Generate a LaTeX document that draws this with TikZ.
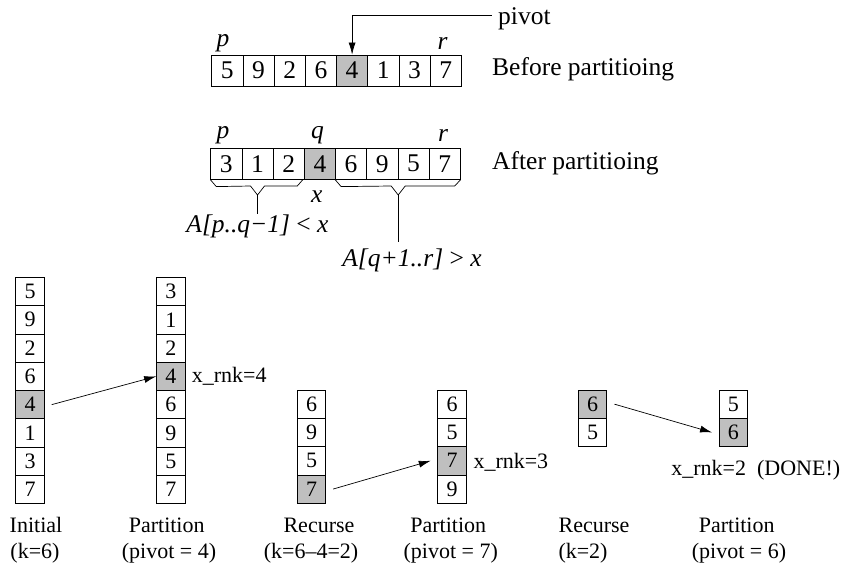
\documentclass[tikz,border=0pt]{standalone}
\usepackage{fontspec}
\setmainfont{Liberation Serif}
\usetikzlibrary{arrows.meta}
\begin{document}
\begin{tikzpicture}[x=1pt,y=-1pt,
  cellA/.style={draw, line width=0.8pt, minimum width=31.2pt, minimum height=31pt, inner sep=0pt, font=\fontsize{25.5}{25.5}\selectfont},
  cellB/.style={draw, line width=0.8pt, minimum width=28.5pt, minimum height=28.3pt, inner sep=0pt, font=\fontsize{22}{22}\selectfont},
  hl/.style={fill=black!25},
  nohl/.style={},
  lbl/.style={inner sep=0pt, font=\fontsize{25.5}{25.5}\selectfont},
  lblB/.style={inner sep=0pt, font=\fontsize{22}{22}\selectfont},
  arr/.style={-{Latex[length=12pt,width=7pt]}, line width=0.7pt},
  brace/.style={line width=0.7pt}]
\useasboundingbox (0,0) rectangle (843,565);

% ---- top array: before partitioning
\foreach \v/\s [count=\i] in {5/nohl,9/nohl,2/nohl,6/nohl,4/hl,1/nohl,3/nohl,7/nohl}
  \node[cellA,\s] (a\i) at ({211.7+31.2*(\i-0.5)},70.5) {\v};
\node[lbl, anchor=base west] (pivot) at (498,24.5) {pivot};
\coordinate (pv) at (491.7,15);
\draw[arr] (pv) -| (a5.north);
\node[lbl] (ap) at (223,43) {\itshape p};
\node[lbl] (ar) at (442.5,43) {\itshape r};
\node[lbl, anchor=base west] (before) at (492,75.7) {Before partitioing};

% ---- second array: after partitioning
\foreach \v/\s [count=\i] in {3/nohl,1/nohl,2/nohl,4/hl,6/nohl,9/nohl,5/nohl,7/nohl}
  \node[cellA,\s] (b\i) at ({210.7+31.2*(\i-0.5)},163.7) {\v};
\node[lbl] (bp) at (223,135) {\itshape p};
\node[lbl] (bq) at (317.5,135) {\itshape q};
\node[lbl] (br) at (443,135) {\itshape r};
\node[lbl] (bx) at (316.7,197) {\itshape x};
\node[lbl, anchor=base west] (after) at (492,169) {After partitioing};

% braces
\coordinate (lbc) at (257.5,195);
\coordinate (rbc) at (398.2,195);
\draw[brace] (b1.south west) -- ++(6,7) -- (250.5,186) -- (lbc) -- (264.5,186) -- (297.3,186) -- ([xshift=-1pt]b4.south west);
\draw[brace] (b5.south west) -- ++(6,7) -- (391.2,186) -- (rbc) -- (405.2,186) -- (454.7,186) -- (b8.south east);
\node[lbl] (lA) at (257.5,226) {\itshape A[p..q−1] \upshape< \itshape x};
\node[lbl] (rA) at (412,260) {\itshape A[q+1..r] \upshape> \itshape x};
\coordinate (rstem) at (398.2,241.7);
\draw[brace] (lbc) -- (lA.north -| lbc);
\draw[brace] (rbc) -- (rstem);

% ---- bottom columns
\foreach \v/\s [count=\i] in {5/nohl,9/nohl,2/nohl,6/nohl,4/hl,1/nohl,3/nohl,7/nohl}
  \node[cellB,\s] (c1r\i) at (30,{277.3+28.3*(\i-0.5)}) {\v};
\foreach \v/\s [count=\i] in {3/nohl,1/nohl,2/nohl,4/hl,6/nohl,9/nohl,5/nohl,7/nohl}
  \node[cellB,\s] (c2r\i) at (170.8,{277.3+28.3*(\i-0.5)}) {\v};
\foreach \v/\s [count=\i] in {6/nohl,9/nohl,5/nohl,7/hl}
  \node[cellB,\s] (c3r\i) at (311.5,{390+28.3*(\i-0.5)}) {\v};
\foreach \v/\s [count=\i] in {6/nohl,5/nohl,7/hl,9/nohl}
  \node[cellB,\s] (c4r\i) at (452,{390+28.3*(\i-0.5)}) {\v};
\foreach \v/\s [count=\i] in {6/hl,5/nohl}
  \node[cellB,\s] (c5r\i) at (592.5,{390+28.3*(\i-0.5)}) {\v};
\foreach \v/\s [count=\i] in {5/nohl,6/hl}
  \node[cellB,\s] (c6r\i) at (733.3,{390+28.3*(\i-0.5)}) {\v};

% arrows
\draw[arr] ([xshift=7pt]c1r5.east) -- (c2r4.west);
\draw[arr] ([xshift=7pt]c3r4.east) -- ([xshift=-6.6pt]c4r3.west);
\draw[arr] ([xshift=7.3pt]c5r1.east) -- ([xshift=-6.6pt]c6r2.west);

% rank labels
\node[lblB, anchor=west] (rk4) at (191.7,376.7) {x\_rnk=4};
\node[lblB, anchor=west] (rk3) at (473.3,462.3) {x\_rnk=3};
\node[lblB] (rk2) at (755.8,470) {x\_rnk=2\hspace{0.5em}(DONE!)};

% step captions
\node[lblB] (s1a) at (36,525) {Initial};
\node[lblB] (s1b) at (35,553) {(k=6)};
\node[lblB] (s2a) at (166.7,525) {Partition};
\node[lblB] (s2b) at (169,553) {(pivot = 4)};
\node[lblB] (s3a) at (319,525) {Recurse};
\node[lblB] (s3b) at (311,553) {(k=6–4=2)};
\node[lblB] (s4a) at (448.3,525) {Partition};
\node[lblB] (s4b) at (450.8,553) {(pivot = 7)};
\node[lblB] (s5a) at (594,525) {Recurse};
\node[lblB, anchor=west] (s5b) at (558.3,553) {(k=2)};
\node[lblB] (s6a) at (736.7,525) {Partition};
\node[lblB] (s6b) at (739,553) {(pivot = 6)};
\end{tikzpicture}
\end{document}
